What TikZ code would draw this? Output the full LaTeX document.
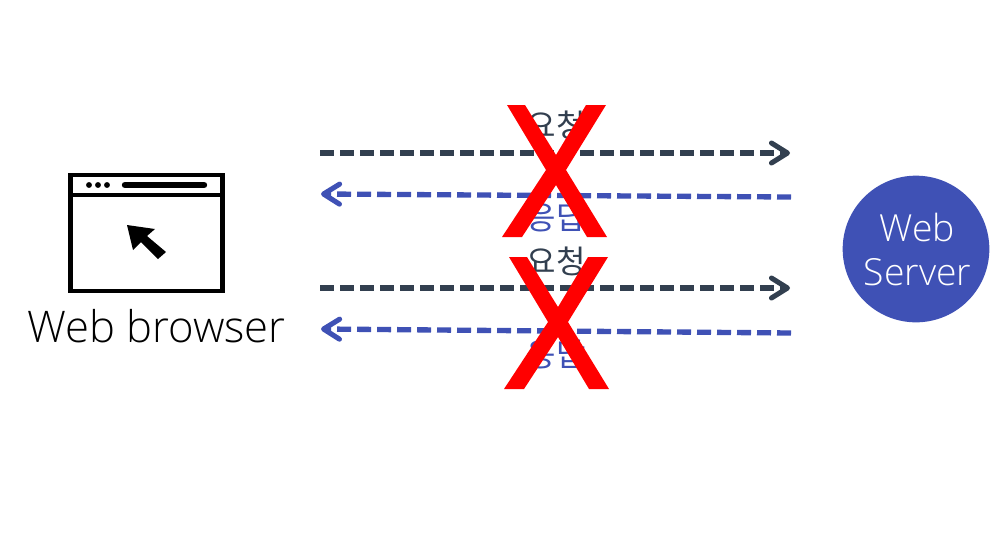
\documentclass[tikz,border=0pt]{standalone}
\usepackage{fontspec}
\setmainfont{Open Sans Light}[BoldFont={Open Sans}]
\newfontfamily\krfont{Noto Sans CJK KR}
\usetikzlibrary{arrows.meta,positioning}
\definecolor{reqcol}{HTML}{323F4F}
\definecolor{rescol}{HTML}{3F51B5}
\tikzset{
  msg/.style={line width=4pt,dash pattern=on 10.5pt off 4.5pt,-{Straight Barb[length=12pt,width=15pt,round,line width=3.8pt]}},
  req/.style={msg,draw=reqcol},
  res/.style={msg,draw=rescol},
  lbl/.style={inner sep=0pt,font=\krfont\fontsize{24}{24}\selectfont},
  win/.style={draw=black,line width=3.6pt,fill=white},
  crossmark/.pic={\fill[red] (-49,-65) -- (-31,-65) -- (0,-15) -- (30,-65) -- (50,-65) -- (10,0) -- (51,67) -- (31,67) -- (0,15) -- (-34,67) -- (-54,67) -- (-10,0) -- cycle;}
}
\begin{document}
\begin{tikzpicture}[x=0.75pt,y=-0.75pt]
  \useasboundingbox (0,0) rectangle (992,540);
  % browser window
  \node[win,minimum width=114.5pt,minimum height=87pt,inner sep=0pt] (browser) at (146.5,233) {};
  \draw[line width=3.6pt] (69,195) -- (224,195);
  \foreach \x in {89,98,107} \fill (\x,185) circle (2.2pt);
  \draw[line width=4.8pt,line cap=round] (125,185) -- (204,185);
  \fill (127,225) -- (155,229) -- (147,236) -- (166,252) -- (158,259) -- (141,242) -- (133,250) -- cycle;
  \node[inner sep=0pt,font=\fontsize{32.7}{33}\selectfont] (blabel) at (156.5,326) {Web browser};
  % server
  \node[circle,fill=rescol,minimum size=110pt,inner sep=0pt] (server) at (916,249) {};
  \node[inner sep=0pt,text=white,align=center,font=\fontsize{28}{33}\selectfont] (stext) at (917.5,249) {Web\\Server};
  % first pair
  \coordinate (a1) at (320,153);
  \coordinate (b1) at (790,153);
  \coordinate (c1) at (791,197);
  \coordinate (d1) at (321,194);
  \draw[req] (a1) -- (b1);
  \draw[res] (c1) -- (d1);
  \node[lbl,text=reqcol] (req1) at (556,125) {요청};
  \node[lbl,text=rescol] (res1) at (556,218) {응답};
  \pic at (556,170) {crossmark};
  % second pair
  \coordinate (a2) at (320,288);
  \coordinate (b2) at (790,288);
  \coordinate (c2) at (791,333);
  \coordinate (d2) at (321,329);
  \draw[req] (a2) -- (b2);
  \draw[res] (c2) -- (d2);
  \node[lbl,text=reqcol] (req2) at (556,261) {요청};
  \node[lbl,text=rescol] (res2) at (556,355) {응답};
  \pic at (558,322) {crossmark};
\end{tikzpicture}
\end{document}
